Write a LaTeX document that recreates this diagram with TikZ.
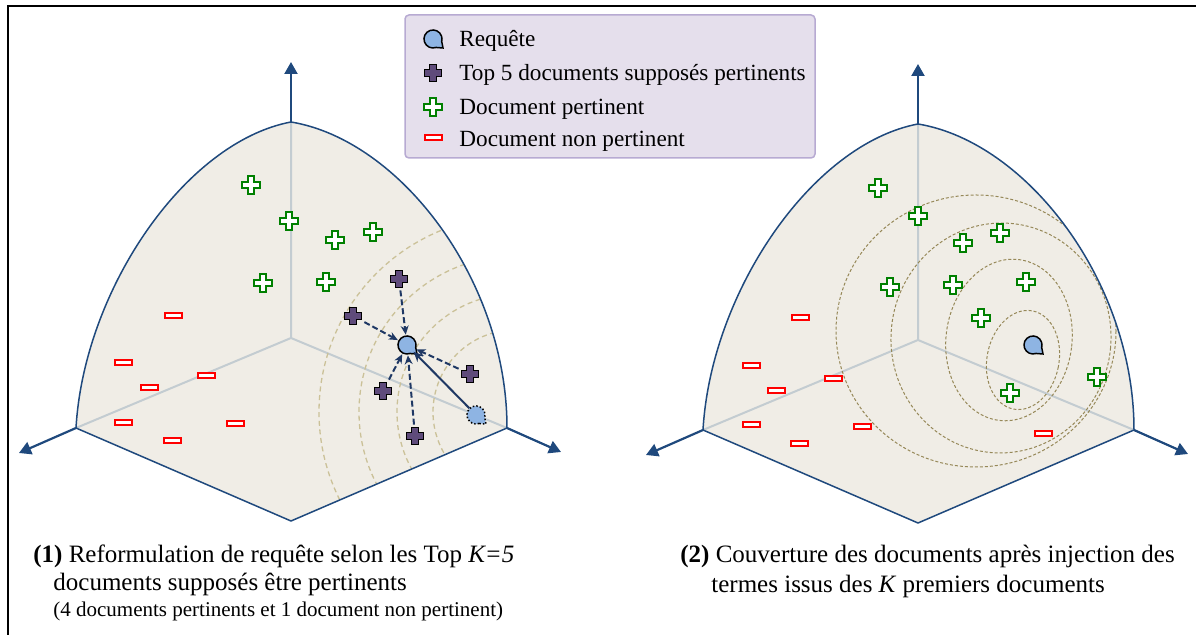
\documentclass[tikz,border=0pt]{standalone}
\usepackage{fontspec}
\setmainfont{Liberation Serif}
\usetikzlibrary{arrows.meta,calc}

\definecolor{axisblue}{RGB}{31,73,125}
\definecolor{spherefill}{RGB}{240,237,230}
\definecolor{innergrey}{RGB}{195,204,209}
\definecolor{arctan}{RGB}{203,193,152}
\definecolor{ringolive}{RGB}{150,136,88}
\definecolor{topviolet}{RGB}{95,75,123}
\definecolor{relgreen}{RGB}{0,128,0}
\definecolor{qblue}{RGB}{142,180,227}
\definecolor{arrownavy}{RGB}{31,56,100}
\definecolor{legendfill}{RGB}{229,223,236}
\definecolor{legenddraw}{RGB}{183,170,210}

\newcommand{\octantpath}{(0,-216) .. controls (-106,-196) and (-207,-48) .. (-215,90)
  -- (0,183) -- (216,90) .. controls (216,-58) and (109,-198) .. (0,-216) -- cycle}

\tikzset{
  plusglyph/.style={minimum size=11pt, inner sep=0pt, path picture={
      \filldraw[#1, shift={(path picture bounding box.center)}]
        (-3.2,-8.8) -- (3.2,-8.8) -- (3.2,-3.2) -- (8.8,-3.2) -- (8.8,3.2) -- (3.2,3.2) -- (3.2,8.8)
        -- (-3.2,8.8) -- (-3.2,3.2) -- (-8.8,3.2) -- (-8.8,-3.2) -- (-3.2,-3.2) -- cycle;}},
  topdoc/.style={plusglyph={fill=topviolet, draw=black, line width=0.5pt}},
  reldoc/.style={plusglyph={fill=white, draw=relgreen, line width=1pt}},
  nonrel/.style={rectangle, draw=red, fill=white, line width=1pt,
    minimum width=8.5pt, minimum height=2.5pt, inner sep=0pt},
  qhit/.style={circle, minimum size=9pt, inner sep=0pt},
  qmark/.pic={\filldraw[fill=qblue, draw=black, line width=0.75pt, #1]
    (70:9) arc[start angle=70, end angle=375, radius=9] -- (10,9) -- cycle;},
  rim/.style={axisblue, line width=0.75pt},
  axis/.style={axisblue, line width=1.1pt, -{Triangle[length=6pt,width=6.5pt]}},
  wave/.style={arctan, line width=0.65pt, dash pattern=on 2.5pt off 1.8pt},
  ring/.style={ringolive, line width=0.5pt, dash pattern=on 1.5pt off 1pt},
  pull/.style={arrownavy, line width=1pt, dash pattern=on 3pt off 1.5pt,
    -{Stealth[length=4.5pt,width=4pt]}, shorten >=0.5pt},
  move/.style={arrownavy, line width=1pt, -{Stealth[length=5pt,width=4.5pt]}},
  legtext/.style={anchor=base west, inner sep=0pt, font=\fontsize{11.6}{13}\selectfont},
  captext/.style={anchor=base west, inner sep=0pt, font=\fontsize{12.5}{15}\selectfont},
}

\begin{document}
\begin{tikzpicture}[x=0.5pt, y=-0.5pt]
  \useasboundingbox (0,0) rectangle (1196,635);
  \draw[line width=1pt] (8,635) -- (8,6) -- (1196,6);

  \foreach \ox/\oy in {291/338, 918/340} {
    \begin{scope}[shift={(\ox,\oy)}]
      \fill[spherefill] \octantpath;
      \draw[innergrey, line width=1pt] (0,0) -- (0,-216) (0,0) -- (-215,90) (0,0) -- (216,90);
    \end{scope}
  }
  \begin{scope}[shift={(291,338)}]
    \clip \octantpath;
    \foreach \r in {82,118,156,196}
      \draw[wave] (224,74) circle[radius=\r];
  \end{scope}
  \begin{scope}[shift={(918,340)}]
    \clip \octantpath;
    \draw[ring, rotate around={-11:(105,20)}] (105,20) ellipse[x radius=36, y radius=50];
    \draw[ring, rotate around={-7:(91,0)}] (91,0) ellipse[x radius=63, y radius=81];
    \draw[ring, rotate around={-5:(83,-2)}] (83,-2) ellipse[x radius=110, y radius=115];
    \draw[ring] (58,-9) ellipse[x radius=140, y radius=136];
  \end{scope}
  \foreach \ox/\oy in {291/338, 918/340} {
    \begin{scope}[shift={(\ox,\oy)}]
      \draw[rim] \octantpath;
      \draw[axis] (0,-216) -- (0,-276);
      \draw[axis] (-215,90) -- (-272,115);
      \draw[axis] (216,90) -- (270,114);
    \end{scope}
  }

  \foreach \x/\y [count=\i] in {251/185, 289/221, 335/240, 373/232, 263/283, 326/282}
    \node[reldoc] (relL\i) at (\x,\y) {};
  \foreach \x/\y [count=\i] in {173/316, 123/363, 206/376, 149/388, 123/423, 235/424, 172/441}
    \node[nonrel] (nonL\i) at (\x,\y) {};
  \foreach \x/\y [count=\i] in {399/279, 353/316, 470/374, 383/391, 415/436}
    \node[topdoc] (top\i) at (\x,\y) {};
  \node[qhit] (qold) at (476,415) {};
  \node[qhit] (qnew) at (407,345) {};
  \pic at (qold) {qmark={densely dotted}};
  \pic at (qnew) {qmark=solid};
  \foreach \i in {1,...,5}
    \draw[pull] (top\i) -- (qnew);
  \draw[move] (qold) -- (qnew);

  \foreach \x/\y [count=\i] in {878/188, 918/216, 963/243, 1000/233, 890/287,
      953/285, 1026/282, 981/318, 1010/393, 1097/377}
    \node[reldoc] (relR\i) at (\x,\y) {};
  \foreach \x/\y [count=\i] in {800/318, 751/366, 833/379, 776/391, 751/425,
      862/427, 799/444, 1043/434}
    \node[nonrel] (nonR\i) at (\x,\y) {};
  \node[qhit] (qexp) at (1033,345) {};
  \pic at (qexp) {qmark=solid};

  \node[draw=legenddraw, fill=legendfill, rounded corners=2pt, line width=0.75pt,
    minimum width=205pt, minimum height=71.5pt, inner sep=0pt] (legend) at (610,86.5) {};
  \node[qhit] (legq) at (433,39) {};
  \pic at (legq) {qmark=solid};
  \node[topdoc] (legtop) at (433,73) {};
  \node[reldoc] (legrel) at (433,107) {};
  \node[nonrel] (legnon) at (433,138) {};
  \node[legtext] (legqtxt) at (459,46.5) {Requête};
  \node[legtext] (legtoptxt) at (459,81) {Top 5 documents supposés pertinents};
  \node[legtext] (legreltxt) at (459,115) {Document pertinent};
  \node[legtext] (legnontxt) at (459,146.5) {Document non pertinent};

  \node[captext] (capA1) at (33,563) {\textbf{(1)} Reformulation de requête selon les Top \textit{K=5}};
  \node[captext] (capA2) at (53,591) {documents supposés être pertinents};
  \node[captext, font=\fontsize{10.5}{12}\selectfont] (capA3) at (53,617)
    {(4 documents pertinents et 1 document non pertinent)};
  \node[captext] (capB1) at (680,563) {\textbf{(2)} Couverture des documents après injection des};
  \node[captext] (capB2) at (711,593) {termes issus des \textit{K} premiers documents};
\end{tikzpicture}
\end{document}
